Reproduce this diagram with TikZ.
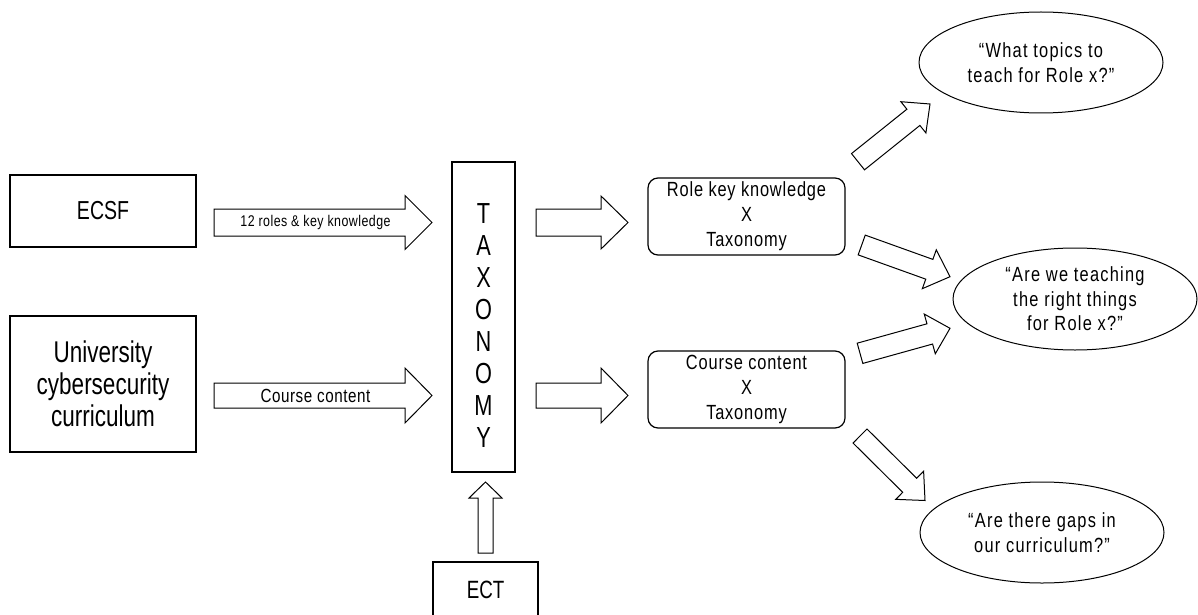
\documentclass[tikz,border=0pt]{standalone}
\usepackage{fontspec}
\setmainfont{Liberation Sans}[FakeStretch=0.75]
\newfontfamily\trkA{Liberation Sans}[FakeStretch=0.8,LetterSpace=3]
\newfontfamily\trkB{Liberation Sans}[FakeStretch=0.8,LetterSpace=4]
\newfontfamily\trkC{Liberation Sans}[FakeStretch=0.8,LetterSpace=6]
\usetikzlibrary{calc,shapes.geometric}
\tikzset{
  box/.style={draw, line width=1.3pt, inner sep=0pt, align=center},
  rbox/.style={box, rounded corners=10pt, line width=1.2pt,
    font=\trkB\fontsize{20.5}{25}\selectfont},
  bubble/.style={draw, ellipse, line width=1pt, inner sep=0pt, align=center,
    minimum width=244pt, minimum height=101pt,
    font=\trkC\fontsize{20.5}{24.5}\selectfont},
  barrow/.style={draw, fill=white, line width=1pt, line join=miter},
  alabel/.style={inner sep=0pt},
}
\newcommand\blockarrow[5]{%
  \coordinate (ba-h) at ($(#2)!#5!(#1)$);
  \draw[barrow] ($(#1)!#3!90:(#2)$) -- ($(ba-h)!#3!90:(#2)$) --
    ($(ba-h)!#4!90:(#2)$) -- (#2) -- ($(ba-h)!#4!-90:(#2)$) --
    ($(ba-h)!#3!-90:(#2)$) -- ($(#1)!#3!-90:(#2)$) -- cycle;
}
\begin{document}
\begin{tikzpicture}[x=1pt,y=-1pt]
\useasboundingbox (0,0) rectangle (1198,615);

% left boxes
\node[box, minimum width=186pt, minimum height=72pt,
  font=\fontsize{26}{30}\selectfont] (ecsf) at (103,211) {ECSF};
\node[box, minimum width=186pt, minimum height=136pt,
  font=\fontsize{30}{32}\selectfont] (uni) at (103,384)
  {University\\cybersecurity\\curriculum};

% taxonomy column
\node[box, minimum width=63pt, minimum height=310pt] (tax) at (483.5,317) {};
\node[inner sep=0pt, align=center, font=\fontsize{29}{32}\selectfont]
  (taxtext) at (483.5,326) {T\\A\\X\\O\\N\\O\\M\\Y};

% ECT
\node[box, minimum width=105pt, minimum height=55pt,
  font=\fontsize{25}{30}\selectfont] (ect) at (485.5,589.5) {ECT};

% middle boxes
\node[rbox, minimum width=197pt, minimum height=77pt] (role) at (746.5,216.5)
  {Role key knowledge\\X\\Taxonomy};
\node[rbox, minimum width=197pt, minimum height=77pt] (course) at (746.5,389.5)
  {Course content\\X\\Taxonomy};

% ellipses
\node[bubble] (q1) at (1041,62.5) {\textquotedblleft What topics to\\teach for Role x?\textquotedblright};
\node[bubble, minimum height=102pt] (q2) at (1075,299) {\textquotedblleft Are we teaching\\the right things\\for Role x?\textquotedblright};
\node[bubble] (q3) at (1042,532.5) {\textquotedblleft Are there gaps in\\our curriculum?\textquotedblright};

% arrow end points
\coordinate (a1t) at (214,222.5);   \coordinate (a1h) at (432,222.5);
\coordinate (a2t) at (214,395.5);   \coordinate (a2h) at (432,395.5);
\coordinate (a3t) at (536,222.5);   \coordinate (a3h) at (628,222.5);
\coordinate (a4t) at (536,395.5);   \coordinate (a4h) at (628,395.5);
\coordinate (a5t) at (485.5,553);   \coordinate (a5h) at (485.5,482);
\coordinate (a6t) at (858,161.7);   \coordinate (a6h) at (930,104);
\coordinate (a7t) at (861.7,245);   \coordinate (a7h) at (950,276.7);
\coordinate (a8t) at (860,353.3);   \coordinate (a8h) at (950,328.3);
\coordinate (a9t) at (860,436);     \coordinate (a9h) at (925,500.5);

\blockarrow{a1t}{a1h}{13.5pt}{27pt}{27pt}
\blockarrow{a2t}{a2h}{12.5pt}{27.5pt}{27pt}
\blockarrow{a3t}{a3h}{13.5pt}{26.5pt}{27pt}
\blockarrow{a4t}{a4h}{12.5pt}{27.5pt}{27pt}
\blockarrow{a5t}{a5h}{7.5pt}{16.5pt}{16pt}
\blockarrow{a6t}{a6h}{10.4pt}{20pt}{21.3pt}
\blockarrow{a7t}{a7h}{10.5pt}{20.6pt}{22pt}
\blockarrow{a8t}{a8h}{10.5pt}{20.6pt}{21pt}
\blockarrow{a9t}{a9h}{9.9pt}{19.8pt}{21.6pt}

% arrow labels
\node[alabel, font=\trkA\fontsize{15.5}{17}\selectfont] (l1) at (315.5,222.5) {12 roles \& key knowledge};
\node[alabel, font=\trkA\fontsize{19}{21}\selectfont] (l2) at (315.5,395.5) {Course content};
\end{tikzpicture}
\end{document}
